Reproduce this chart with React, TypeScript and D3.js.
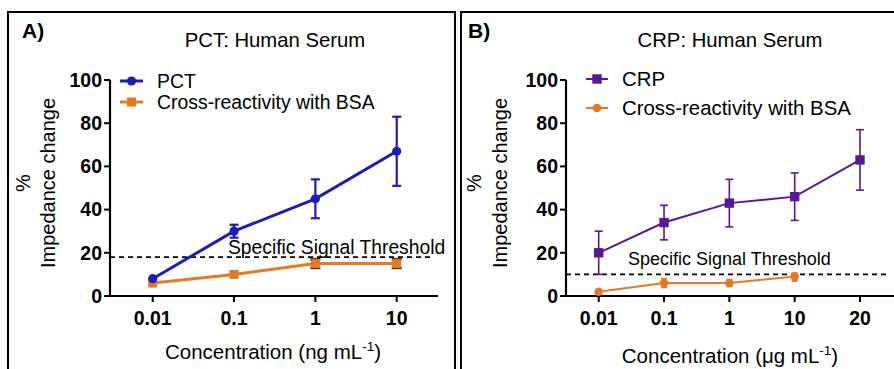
import React from "react";
import * as d3 from "d3";

const concA = ["0.01", "0.1", "1", "10"];
const pctMean = [8, 30, 45, 67];
const pctLow = [8, 27, 36, 51];
const pctHigh = [8, 33, 54, 83];
const bsaAMean = [6, 10, 15, 15];
const bsaALow = [6, 10, 13, 13];
const bsaAHigh = [6, 10, 17, 17];
const thresholdA = 18;

const concB = ["0.01", "0.1", "1", "10", "20"];
const crpMean = [20, 34, 43, 46, 63];
const crpLow = [10, 26, 32, 35, 49];
const crpHigh = [30, 42, 54, 57, 77];
const bsaBConc = ["0.01", "0.1", "1", "10"];
const bsaBMean = [2, 6, 6, 9];
const bsaBLow = [2, 4, 4.5, 7];
const bsaBHigh = [2, 8, 7.5, 10.5];
const thresholdB = 10;

const yTicks = [0, 20, 40, 60, 80, 100];

const FONT = "'Liberation Sans', Arial, Helvetica, sans-serif";
const BLUE = "#1d1db5";
const PURPLE = "#581796";
const ORANGE = "#e57a25";

function App() {
  const y = d3.scaleLinear().domain([0, 100]).range([296, 80]);
  const xA = d3.scalePoint<string>().domain(concA).range([152.7, 396.7]);
  const xB = d3.scalePoint<string>().domain(concB).range([598.7, 860]);

  const line = (x: d3.ScalePoint<string>, cats: string[]) =>
    d3
      .line<number>()
      .x((_, i) => x(cats[i]) as number)
      .y((v) => y(v));

  const yAxis = (ax: number) => (
    <g>
      <line x1={ax} x2={ax} y1={y(100)} y2={y(0)} stroke="#000" strokeWidth={2.2} />
      {yTicks.map((t) => (
        <g key={t}>
          <line x1={ax - 6} x2={ax} y1={y(t)} y2={y(t)} stroke="#000" strokeWidth={2} />
          <text
            x={ax - 8}
            y={y(t)}
            dy="0.35em"
            textAnchor="end"
            fontSize={19.5}
            fontWeight="bold"
            fontFamily={FONT}
          >
            {t}
          </text>
        </g>
      ))}
    </g>
  );

  const xAxis = (ax: number, end: number, x: d3.ScalePoint<string>, cats: string[]) => (
    <g>
      <line x1={ax} x2={end} y1={y(0)} y2={y(0)} stroke="#000" strokeWidth={2.2} />
      {cats.map((c) => (
        <g key={c}>
          <line x1={x(c)} x2={x(c)} y1={y(0)} y2={y(0) + 6} stroke="#000" strokeWidth={2} />
          <text
            x={x(c)}
            y={325}
            textAnchor="middle"
            fontSize={19.5}
            fontWeight="bold"
            fontFamily={FONT}
          >
            {c}
          </text>
        </g>
      ))}
    </g>
  );

  const errBars = (
    x: d3.ScalePoint<string>,
    cats: string[],
    lo: number[],
    hi: number[],
    color: string,
    w: number,
    cap: number
  ) =>
    cats.map((c, i) =>
      hi[i] - lo[i] > 0 ? (
        <g key={"e" + c} stroke={color} strokeWidth={w}>
          <line x1={x(c)} x2={x(c)} y1={y(lo[i])} y2={y(hi[i])} />
          <line x1={(x(c) as number) - cap} x2={(x(c) as number) + cap} y1={y(lo[i])} y2={y(lo[i])} />
          <line x1={(x(c) as number) - cap} x2={(x(c) as number) + cap} y1={y(hi[i])} y2={y(hi[i])} />
        </g>
      ) : null
    );

  const ylabel = (pctX: number, labX: number) => (
    <g fontFamily={FONT} fontSize={20}>
      <text transform={`translate(${pctX},183) rotate(-90)`} textAnchor="middle" dy="0.35em">
        %
      </text>
      <text transform={`translate(${labX},183) rotate(-90)`} textAnchor="middle" dy="0.35em">
        Impedance change
      </text>
    </g>
  );

  return (
    <svg
      width={894}
      height={369}
      style={{ position: "absolute", left: 0, top: 0, background: "#fff" }}
    >
      <rect x={0} y={0} width={894} height={369} fill="#fff" />
      {/* Panel frames */}
      <path d="M8,372 V12 H455 V372" fill="none" stroke="#000" strokeWidth={2} />
      <path d="M461,372 V12 H898" fill="none" stroke="#000" strokeWidth={2} />

      {/* Panel A */}
      <text x={22} y={38} fontSize={21} fontWeight="bold" fontFamily={FONT}>
        A)
      </text>
      <text x={275} y={47} textAnchor="middle" fontSize={20.3} fontFamily={FONT}>
        PCT: Human Serum
      </text>
      {ylabel(23, 48)}
      {yAxis(110)}
      {xAxis(110, 438, xA, concA)}
      <line
        x1={110}
        x2={434}
        y1={y(thresholdA)}
        y2={y(thresholdA)}
        stroke="#000"
        strokeWidth={1.6}
        strokeDasharray="5,4"
      />
      <text x={228} y={254} fontSize={19.3} fontFamily={FONT}>
        Specific Signal Threshold
      </text>
      {/* BSA A */}
      {errBars(xA, concA, bsaALow, bsaAHigh, "#3a2a1a", 2.5, 5)}
      <path d={line(xA, concA)(bsaAMean) || ""} fill="none" stroke={ORANGE} strokeWidth={3} />
      {concA.map((c, i) => (
        <rect
          key={"sa" + c}
          x={(xA(c) as number) - 4.5}
          y={y(bsaAMean[i]) - 4.5}
          width={9}
          height={9}
          fill={ORANGE}
        />
      ))}
      {/* PCT */}
      {errBars(xA, concA, pctLow, pctHigh, BLUE, 2.2, 4.5)}
      <path d={line(xA, concA)(pctMean) || ""} fill="none" stroke={BLUE} strokeWidth={3} />
      {concA.map((c, i) => (
        <circle key={"pa" + c} cx={xA(c)} cy={y(pctMean[i])} r={4.6} fill={BLUE} />
      ))}
      {/* Legend A */}
      <line x1={120} x2={143} y1={81} y2={81} stroke={BLUE} strokeWidth={3} />
      <circle cx={131.5} cy={81} r={4.6} fill={BLUE} />
      <text x={157} y={81} dy="0.35em" fontSize={19.4} fontFamily={FONT}>
        PCT
      </text>
      <line x1={120} x2={143} y1={102} y2={102} stroke={ORANGE} strokeWidth={3} />
      <rect x={127} y={97.5} width={9} height={9} fill={ORANGE} />
      <text x={157} y={102} dy="0.35em" fontSize={19.4} fontFamily={FONT}>
        Cross-reactivity with BSA
      </text>
      <text x={273} y={359} textAnchor="middle" fontSize={20.5} fontFamily={FONT}>
        Concentration (ng mL
        <tspan dy={-8} fontSize={13.5}>
          -1
        </tspan>
        <tspan dy={8}>)</tspan>
      </text>

      {/* Panel B */}
      <text x={468} y={38} fontSize={21} fontWeight="bold" fontFamily={FONT}>
        B)
      </text>
      <text x={730} y={47} textAnchor="middle" fontSize={20.3} fontFamily={FONT}>
        CRP: Human Serum
      </text>
      {ylabel(474, 500)}
      {yAxis(566)}
      {xAxis(566, 894, xB, concB)}
      <line
        x1={566}
        x2={890}
        y1={y(thresholdB)}
        y2={y(thresholdB)}
        stroke="#000"
        strokeWidth={1.6}
        strokeDasharray="5,4"
      />
      <text x={628} y={265} fontSize={18} fontFamily={FONT}>
        Specific Signal Threshold
      </text>
      {/* BSA B */}
      {errBars(xB, bsaBConc, bsaBLow, bsaBHigh, ORANGE, 2, 3)}
      <path d={line(xB, bsaBConc)(bsaBMean) || ""} fill="none" stroke={ORANGE} strokeWidth={2} />
      {bsaBConc.map((c, i) => (
        <circle key={"sb" + c} cx={xB(c)} cy={y(bsaBMean[i])} r={4.3} fill={ORANGE} />
      ))}
      {/* CRP */}
      {errBars(xB, concB, crpLow, crpHigh, PURPLE, 1.6, 4)}
      <path d={line(xB, concB)(crpMean) || ""} fill="none" stroke={PURPLE} strokeWidth={2} />
      {concB.map((c, i) => (
        <rect
          key={"cb" + c}
          x={(xB(c) as number) - 4.7}
          y={y(crpMean[i]) - 4.7}
          width={9.4}
          height={9.4}
          fill={PURPLE}
        />
      ))}
      {/* Legend B */}
      <line x1={586} x2={608} y1={79} y2={79} stroke={PURPLE} strokeWidth={2} />
      <rect x={592.3} y={74.3} width={9.4} height={9.4} fill={PURPLE} />
      <text x={622} y={79} dy="0.35em" fontSize={20.4} fontFamily={FONT}>
        CRP
      </text>
      <line x1={586} x2={608} y1={108} y2={108} stroke={ORANGE} strokeWidth={2} />
      <circle cx={597} cy={108} r={4.3} fill={ORANGE} />
      <text x={622} y={108} dy="0.35em" fontSize={20.4} fontFamily={FONT}>
        Cross-reactivity with BSA
      </text>
      <text x={730} y={363} textAnchor="middle" fontSize={20.5} fontFamily={FONT}>
        Concentration (μg mL
        <tspan dy={-8} fontSize={13.5}>
          -1
        </tspan>
        <tspan dy={8}>)</tspan>
      </text>
    </svg>
  );
}

export default App;
